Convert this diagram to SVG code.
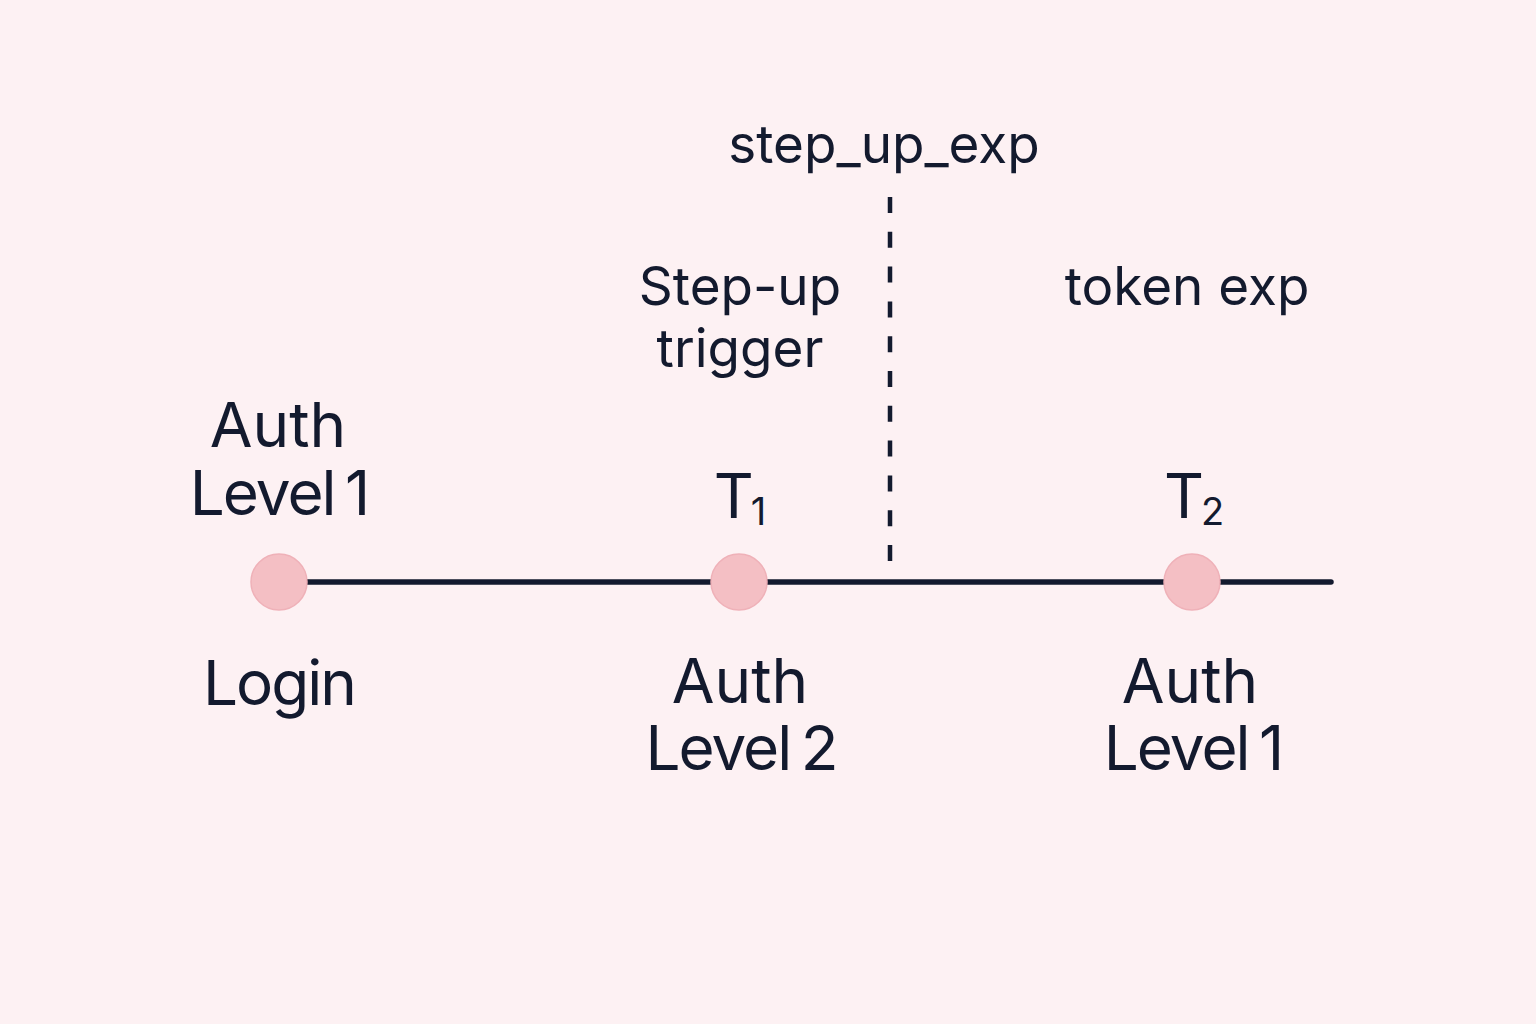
<svg xmlns="http://www.w3.org/2000/svg" width="1536" height="1024" viewBox="0 0 1536 1024">
<style>
.t{font-family:Inter,"Noto Sans","Liberation Sans",sans-serif;fill:#131a2e;text-anchor:middle}
.big{font-size:62px;letter-spacing:-2px;word-spacing:-5px}
.auth{letter-spacing:0px}
.mid{font-size:53px}
.dot{fill:#f4bfc4;stroke:#efb1b8;stroke-width:1.5}
</style>
<rect width="1536" height="1024" fill="#fdf1f3"/>
<g id="connectors">
<line x1="279" y1="582" x2="1331" y2="582" stroke="#131a2e" stroke-width="5.5" stroke-linecap="round"/>
<line x1="890" y1="197" x2="890" y2="562" stroke="#131a2e" stroke-width="4.5" stroke-dasharray="16 18.8"/>
</g>
<g id="login">
<circle class="dot" cx="279" cy="582" r="28"/>
<text class="t big auth" x="278" y="447">Auth</text>
<text class="t big" x="279" y="515">Level 1</text>
<text class="t big" x="279" y="705">Login</text>
</g>
<g id="t1">
<circle class="dot" cx="739" cy="582" r="28"/>
<text class="t big" x="739" y="518">T<tspan font-size="38" dy="7" dx="-1">1</tspan></text>
<text class="t big auth" x="740" y="703">Auth</text>
<text class="t big" x="741" y="770">Level 2</text>
<text class="t mid" x="740" y="305">Step-up</text>
<text class="t mid" x="740" y="367">trigger</text>
</g>
<g id="t2">
<circle class="dot" cx="1192" cy="582" r="28"/>
<text class="t big" x="1193" y="518">T<tspan font-size="38" dy="7" dx="-1">2</tspan></text>
<text class="t big auth" x="1190" y="703">Auth</text>
<text class="t big" x="1193" y="770">Level 1</text>
<text class="t mid" x="1187" y="305">token exp</text>
</g>
<g id="step_up_exp">
<text class="t mid" x="884" y="163">step_up_exp</text>
</g>
</svg>
